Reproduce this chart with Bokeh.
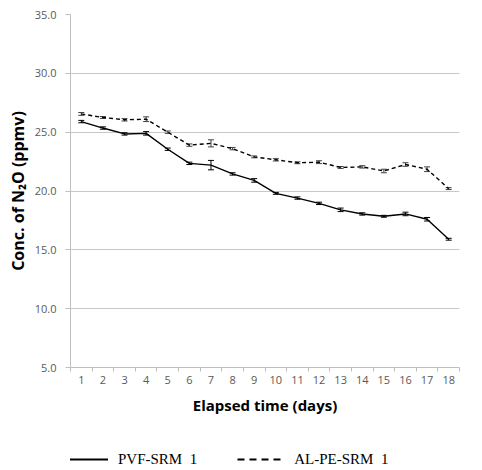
from bokeh.plotting import figure
from bokeh.layouts import column
from bokeh.models import (Range1d, FixedTicker, Whisker, ColumnDataSource, TeeHead,
                          Legend, LegendItem, NumeralTickFormatter)
from bokeh.embed import file_html
from bokeh.resources import INLINE

days = list(range(1, 19))
day_labels = [str(d) for d in days]
pvf = [25.9, 25.35, 24.85, 24.9, 23.55, 22.35, 22.2, 21.45, 20.9, 19.8, 19.4, 18.95,
       18.4, 18.05, 17.85, 18.05, 17.6, 15.9]
pvf_err = [0.1, 0.1, 0.1, 0.15, 0.1, 0.1, 0.4, 0.1, 0.15, 0.08, 0.1, 0.1,
           0.15, 0.1, 0.08, 0.15, 0.15, 0.08]
alpe = [26.55, 26.25, 26.05, 26.1, 25.0, 23.9, 24.05, 23.6, 22.9, 22.65, 22.4, 22.45,
        22.0, 22.05, 21.7, 22.25, 21.85, 20.2]
alpe_err = [0.12, 0.08, 0.1, 0.2, 0.1, 0.1, 0.3, 0.1, 0.08, 0.1, 0.08, 0.12,
            0.08, 0.1, 0.15, 0.15, 0.2, 0.08]
y_ticks = [5, 10, 15, 20, 25, 30, 35]
series_names = ["PVF-SRM  1", "AL-PE-SRM  1"]

src = ColumnDataSource(dict(
    x=days, pvf=pvf, alpe=alpe,
    pvf_lo=[v - e for v, e in zip(pvf, pvf_err)], pvf_hi=[v + e for v, e in zip(pvf, pvf_err)],
    alpe_lo=[v - e for v, e in zip(alpe, alpe_err)], alpe_hi=[v + e for v, e in zip(alpe, alpe_err)],
))

p = figure(frame_width=389, frame_height=353, output_backend="svg", toolbar_location=None,
           x_range=Range1d(0.5, 18.5), y_range=Range1d(5, 35),
           min_border_left=70, min_border_right=15, min_border_top=14, min_border_bottom=65)
p.outline_line_color = None
p.background_fill_color = "white"
p.border_fill_color = "white"

grey = "#bfbfbf"
tick_font = "Open Sans"

# X axis
p.xaxis.ticker = FixedTicker(ticks=days, minor_ticks=[d - 0.5 for d in days] + [18.5])
p.xaxis.major_label_overrides = {d: l for d, l in zip(days, day_labels)}
p.xaxis.major_tick_line_color = None
p.xaxis.minor_tick_line_color = grey
p.xaxis.minor_tick_in = 0
p.xaxis.minor_tick_out = 4
p.xaxis.axis_line_color = grey
p.xaxis.major_label_text_font = tick_font
p.xaxis.major_label_text_font_size = "11px"
p.xaxis.major_label_text_color = "#595959"
p.xaxis.major_label_standoff = 2
p.xaxis.axis_label = "Elapsed time (days)"
p.xaxis.axis_label_text_font = tick_font
p.xaxis.axis_label_text_font_style = "bold"
p.xaxis.axis_label_text_font_size = "15px"
p.xaxis.axis_label_text_color = "black"
p.xaxis.axis_label_standoff = 8
p.xgrid.grid_line_color = None

# Y axis
p.yaxis.ticker = FixedTicker(ticks=y_ticks)
p.yaxis.formatter = NumeralTickFormatter(format="0.0")
p.yaxis.major_tick_line_color = grey
p.yaxis.major_tick_in = 0
p.yaxis.major_tick_out = 5
p.yaxis.minor_tick_line_color = None
p.yaxis.axis_line_color = grey
p.yaxis.major_label_text_font = tick_font
p.yaxis.major_label_text_font_size = "11px"
p.yaxis.major_label_text_color = "#595959"
p.yaxis.major_label_standoff = 9
p.yaxis.axis_label = "Conc. of N\u2082O (ppmv)"
p.yaxis.axis_label_text_font = tick_font
p.yaxis.axis_label_text_font_style = "bold"
p.yaxis.axis_label_text_font_size = "16px"
p.yaxis.axis_label_text_color = "black"
p.yaxis.axis_label_standoff = 3
p.ygrid.grid_line_color = "#c8c8c8"
p.ygrid.grid_line_width = 1

r1 = p.line("x", "pvf", source=src, line_color="black", line_width=1.4)
r2 = p.line("x", "alpe", source=src, line_color="black", line_width=1.4, line_dash="4 3")

for lo, hi, col in [("pvf_lo", "pvf_hi", "black"), ("alpe_lo", "alpe_hi", "#404040")]:
    w = Whisker(base="x", lower=lo, upper=hi, source=src, line_color=col, line_width=1,
                upper_head=TeeHead(size=6, line_color=col, line_width=1),
                lower_head=TeeHead(size=6, line_color=col, line_width=1))
    p.add_layout(w)

# Legend strip below the chart (its lines are out of its visible range)
lg = figure(width=474, height=36, output_backend="svg", toolbar_location=None,
            x_range=Range1d(0.5, 18.5), y_range=Range1d(100, 101),
            x_axis_location=None, y_axis_location=None,
            min_border=0, min_border_left=0, min_border_right=0,
            min_border_top=0, min_border_bottom=0)
lg.outline_line_color = None
lg.grid.visible = False
l1 = lg.line("x", "pvf", source=src, line_color="black", line_width=2)
l2 = lg.line("x", "alpe", source=src, line_color="black", line_width=2, line_dash="7 5")
legend = Legend(items=[LegendItem(label=series_names[0], renderers=[l1]),
                       LegendItem(label=series_names[1], renderers=[l2])],
                location=(-9, 0), orientation="horizontal",
                background_fill_alpha=0, border_line_color=None,
                glyph_width=47, glyph_height=18, label_standoff=10, spacing=40,
                padding=0, margin=0,
                label_text_font="Liberation Serif", label_text_font_size="15px",
                label_text_color="black")
lg.add_layout(legend, "center")

open("out.html", "w").write(file_html(column(p, lg), INLINE))
